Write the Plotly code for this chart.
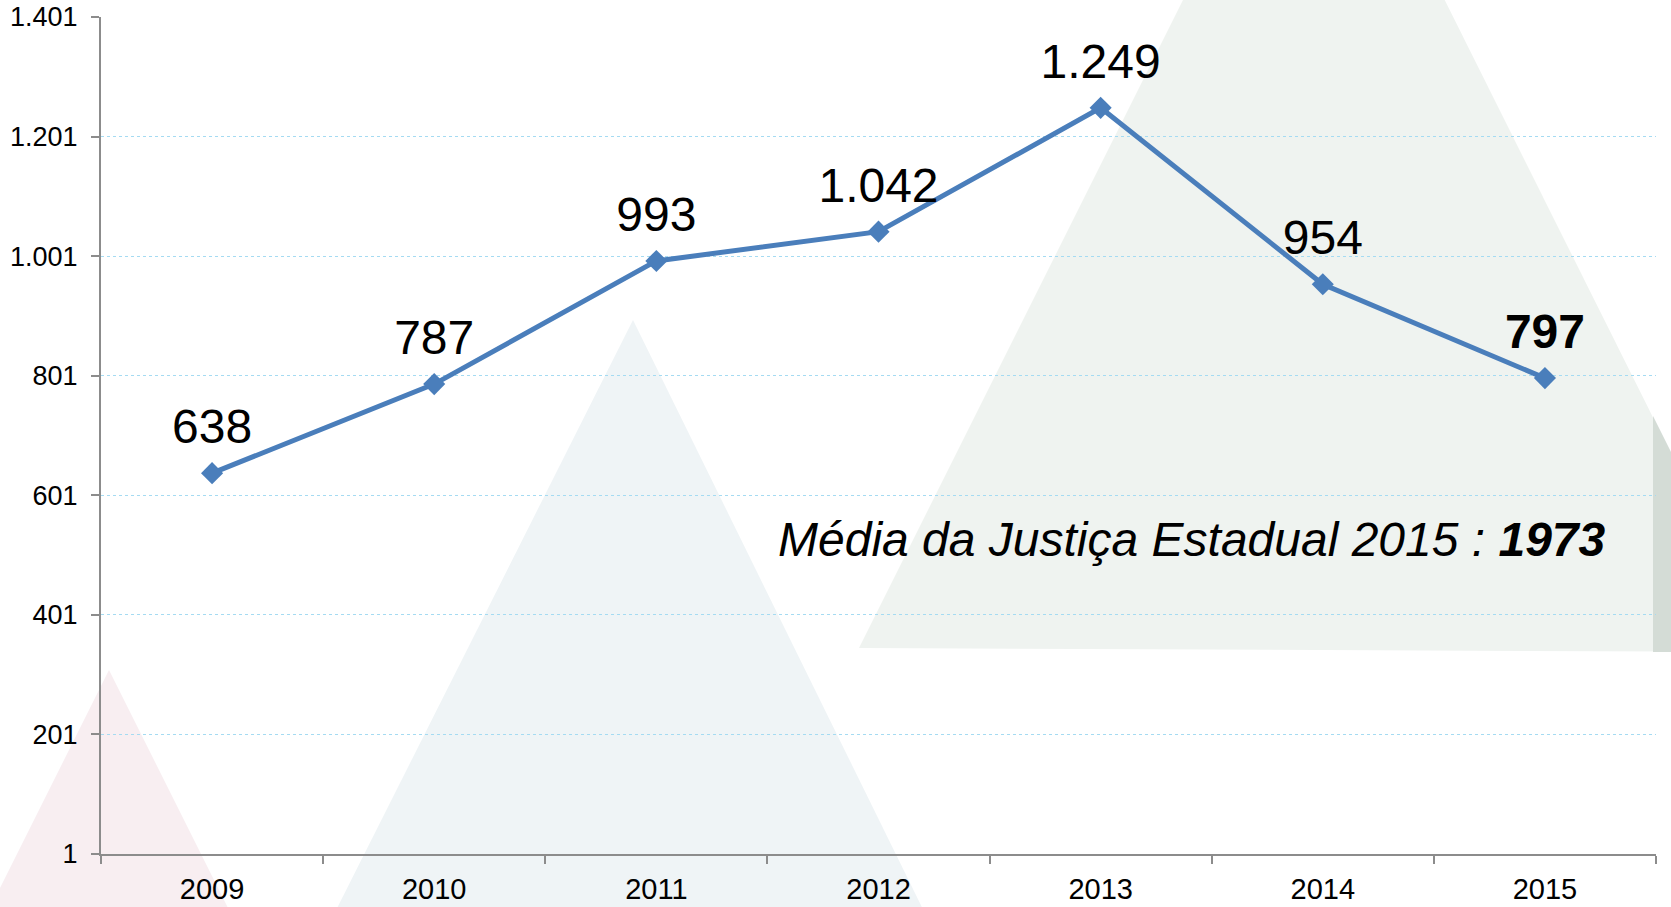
import plotly.graph_objects as go

# ---- data ----
years = ["2009", "2010", "2011", "2012", "2013", "2014", "2015"]
values = [638, 787, 993, 1042, 1249, 954, 797]
value_labels = ["638", "787", "993", "1.042", "1.249", "954", "<b>797</b>"]
y_tickvals = [1, 201, 401, 601, 801, 1001, 1201, 1401]
y_ticktext = ["1", "201", "401", "601", "801", "1.001", "1.201", "1.401"]
note_text = "<i>Média da Justiça Estadual 2015 : <b>1973</b></i>"

# ---- layout geometry ----
W, H = 1671, 907
L, R, T, B = 101, 15, 17, 53
PW, PH = W - L - R, H - T - B
FONT = "Liberation Sans, Arial, sans-serif"
LINE_BLUE = "#4A7EBB"


def paper(xp, yp):
    return (xp - L) / PW, (H - B - yp) / PH


def poly_path(points):
    parts = []
    for i, (x, y) in enumerate(points):
        px, py = paper(x, y)
        parts.append(("M" if i == 0 else "L") + f"{px:.5f},{py:.5f}")
    return " ".join(parts) + " Z"


bg_polys = [
    ([(109, 670), (249, 950), (-31, 950)], "#F8EEF1"),
    ([(633, 320), (943, 950), (316, 950)], "#EFF4F6"),
    ([(1314, -262), (1770, 652), (859, 648)], "#EFF3F0"),
    ([(1653, 416), (1671, 452), (1671, 652), (1653, 652)], "#D4DCD6"),
]

shapes = [
    dict(type="path", path=poly_path(pts), xref="paper", yref="paper",
         fillcolor=col, line=dict(width=0), layer="below")
    for pts, col in bg_polys
]

fig = go.Figure()
fig.add_trace(go.Scatter(
    x=years, y=values, mode="lines+markers",
    line=dict(color=LINE_BLUE, width=5),
    marker=dict(symbol="diamond", size=17, color=LINE_BLUE),
    hoverinfo="x+y", showlegend=False,
))
# data labels (transparent spacer marker sets the gap above each point)
fig.add_trace(go.Scatter(
    x=years, y=values, mode="markers+text",
    text=value_labels, textposition="top center",
    textfont=dict(family=FONT, size=48, color="#000000"),
    marker=dict(size=27, color="rgba(0,0,0,0)"),
    hoverinfo="skip", showlegend=False, cliponaxis=False,
))

nx, ny = paper(776, 539)
annotations = [dict(
    x=nx, y=ny, xref="paper", yref="paper", text=note_text, showarrow=False,
    xanchor="left", yanchor="middle",
    font=dict(family=FONT, size=48, color="#000000"),
)]

fig.update_layout(
    width=W, height=H,
    margin=dict(l=L, r=R, t=T, b=B, pad=0),
    paper_bgcolor="white",
    plot_bgcolor="rgba(0,0,0,0)",
    shapes=shapes,
    annotations=annotations,
    font=dict(family=FONT, color="#000000"),
    xaxis=dict(
        type="category", range=[-0.5, 6.5], tickson="boundaries",
        ticks="outside", ticklen=8, tickwidth=2, tickcolor="#8C8C8C",
        showline=True, linecolor="#8C8C8C", linewidth=2,
        showgrid=False, zeroline=False, automargin=False,
        ticklabelstandoff=8,
        tickfont=dict(family=FONT, size=29, color="#000000"),
    ),
    yaxis=dict(
        range=[1, 1401], tickvals=y_tickvals, ticktext=y_ticktext,
        ticks="outside", ticklen=8, tickwidth=2, tickcolor="#8C8C8C",
        showline=True, linecolor="#8C8C8C", linewidth=2,
        showgrid=True, gridcolor="#A5DBF2", griddash="dot", gridwidth=1,
        zeroline=False, automargin=False,
        ticklabelstandoff=8,
        tickfont=dict(family=FONT, size=27, color="#000000"),
    ),
)

fig.write_html(
    "out.html",
    config={"displayModeBar": False},
    post_script="document.body.style.margin='0px';document.body.style.overflow='hidden';",
)
